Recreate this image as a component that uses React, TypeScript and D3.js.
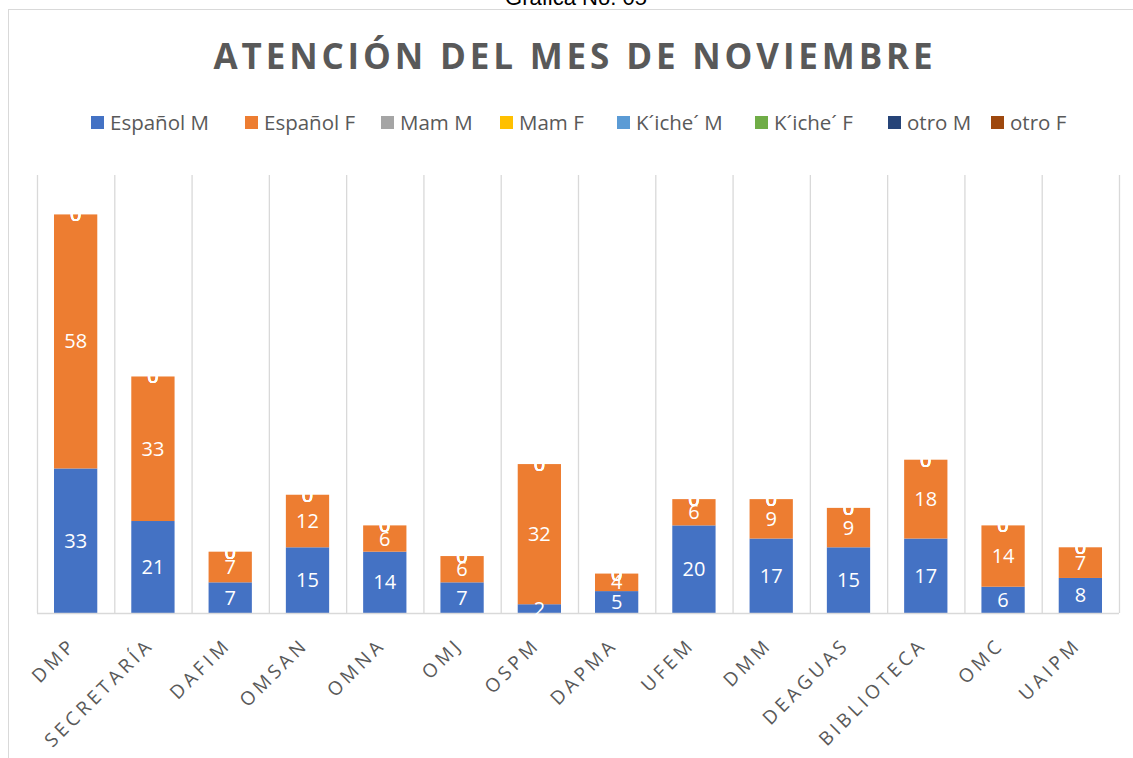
import React, { useEffect, useRef } from 'react';
import * as d3 from 'd3';

const categories = ['DMP', 'SECRETARÍA', 'DAFIM', 'OMSAN', 'OMNA', 'OMJ', 'OSPM', 'DAPMA', 'UFEM', 'DMM', 'DEAGUAS', 'BIBLIOTECA', 'OMC', 'UAIPM'];
const espanolM = [33, 21, 7, 15, 14, 7, 2, 5, 20, 17, 15, 17, 6, 8];
const espanolF = [58, 33, 7, 12, 6, 6, 32, 4, 6, 9, 9, 18, 14, 7];
const mamM = [0, 0, 0, 0, 0, 0, 0, 0, 0, 0, 0, 0, 0, 0];
const mamF = [0, 0, 0, 0, 0, 0, 0, 0, 0, 0, 0, 0, 0, 0];
const kicheM = [0, 0, 0, 0, 0, 0, 0, 0, 0, 0, 0, 0, 0, 0];
const kicheF = [0, 0, 0, 0, 0, 0, 0, 0, 0, 0, 0, 0, 0, 0];
const otroM = [0, 0, 0, 0, 0, 0, 0, 0, 0, 0, 0, 0, 0, 0];
const otroF = [0, 0, 0, 0, 0, 0, 0, 0, 0, 0, 0, 0, 0, 0];

const seriesNames = ['Español M', 'Español F', 'Mam M', 'Mam F', 'K´iche´ M', 'K´iche´ F', 'otro M', 'otro F'];
const seriesValues = [espanolM, espanolF, mamM, mamF, kicheM, kicheF, otroM, otroF];
const colors = ['#4472C4', '#ED7D31', '#A5A5A5', '#FFC000', '#5B9BD5', '#70AD47', '#264478', '#9E480E'];

const W = 1133;
const H = 758;

const App = () => {
    const ref = useRef<SVGSVGElement | null>(null);

    useEffect(() => {
        if (!ref.current) return;
        const svg = d3.select(ref.current);
        svg.selectAll('*').remove();

        const font = '"Open Sans", Lato, sans-serif';
        const plot = { left: 37, right: 1119, top: 175, bottom: 613 };

        // outer chart frame
        svg.append('rect')
            .attr('x', 8.5).attr('y', 9.5)
            .attr('width', W + 20).attr('height', H + 20)
            .attr('fill', '#fff')
            .attr('stroke', '#d9d9d9');

        // caption above frame (cut off)
        svg.append('text')
            .attr('x', 576).attr('y', 5)
            .attr('text-anchor', 'middle')
            .attr('font-family', '"Liberation Sans", Arial, sans-serif')
            .attr('font-size', 22)
            .attr('fill', '#000')
            .text('Gráfica No. 05');

        // title
        svg.append('text')
            .attr('x', 575).attr('y', 69)
            .attr('text-anchor', 'middle')
            .attr('font-family', font)
            .attr('font-weight', 700)
            .attr('font-size', 35)
            .attr('letter-spacing', 3.85)
            .attr('fill', '#595959')
            .text('ATENCIÓN DEL MES DE NOVIEMBRE');

        // legend
        const legendX = [91, 245, 381, 500, 617, 755, 888, 991];
        const legend = svg.append('g');
        seriesNames.forEach((name, i) => {
            const g = legend.append('g').attr('transform', `translate(${legendX[i]},116)`);
            g.append('rect').attr('width', 13).attr('height', 13).attr('fill', colors[i]);
            g.append('text')
                .attr('x', 19).attr('y', 14)
                .attr('font-family', font)
                .attr('font-size', 20.5)
                .attr('fill', '#595959')
                .text(name);
        });

        const rows = categories.map((c, i) => {
            const r: Record<string, any> = { cat: c };
            seriesNames.forEach((s, j) => { r[s] = seriesValues[j][i]; });
            return r;
        });
        const stacked = d3.stack<any>().keys(seriesNames)(rows);

        const x = d3.scaleBand()
            .domain(categories)
            .range([plot.left, plot.right])
            .paddingInner(0.44)
            .paddingOuter(0.22);
        const step = (plot.right - plot.left) / categories.length;

        const y = d3.scaleLinear()
            .domain([0, 100])
            .range([plot.bottom, plot.top]);

        // vertical gridlines at category boundaries
        svg.append('g')
            .selectAll('line')
            .data(d3.range(categories.length + 1))
            .enter().append('line')
            .attr('x1', d => plot.left + d * step + 0.5)
            .attr('x2', d => plot.left + d * step + 0.5)
            .attr('y1', plot.top)
            .attr('y2', plot.bottom)
            .attr('stroke', '#d9d9d9')
            .attr('stroke-width', 1.3);

        // bars
        stacked.forEach((layer, i) => {
            svg.append('g')
                .attr('fill', colors[i])
                .selectAll('rect')
                .data(layer)
                .enter().append('rect')
                .attr('x', d => x(d.data.cat) as number)
                .attr('width', x.bandwidth())
                .attr('y', d => y(d[1]))
                .attr('height', d => y(d[0]) - y(d[1]));
        });

        // baseline
        svg.append('line')
            .attr('x1', plot.left).attr('x2', plot.right)
            .attr('y1', plot.bottom + 0.5).attr('y2', plot.bottom + 0.5)
            .attr('stroke', '#d9d9d9')
            .attr('stroke-width', 1.3);

        // data labels
        stacked.forEach(layer => {
            svg.append('g')
                .selectAll('text')
                .data(layer)
                .enter().append('text')
                .attr('x', d => (x(d.data.cat) as number) + x.bandwidth() / 2)
                .attr('y', d => y((d[0] + d[1]) / 2) + 7)
                .attr('text-anchor', 'middle')
                .attr('font-family', font)
                .attr('font-size', 20)
                .attr('fill', '#fff')
                .text(d => d[1] - d[0]);
        });

        // category labels
        svg.append('g')
            .selectAll('text')
            .data(categories)
            .enter().append('text')
            .attr('transform', d => `translate(${(x(d) as number) + x.bandwidth() / 2 + 2},${plot.bottom + 33}) rotate(-45)`)
            .attr('text-anchor', 'end')
            .attr('font-family', font)
            .attr('font-size', 19)
            .attr('letter-spacing', 3.8)
            .attr('fill', '#595959')
            .text(d => d);
    }, []);

    return (
        <svg ref={ref} width={W} height={H} style={{ position: 'absolute', left: 0, top: 0 }} />
    );
};

export default App;
